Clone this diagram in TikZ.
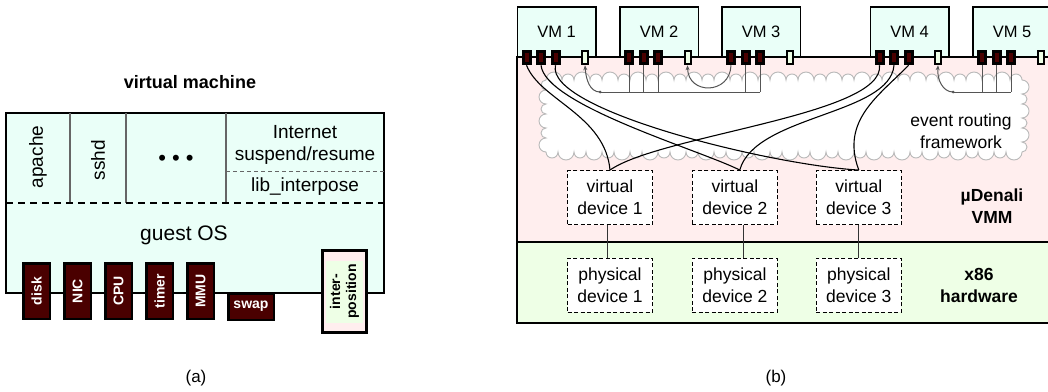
\documentclass[tikz,border=0pt]{standalone}
\usepackage{fontspec}
\setmainfont{Liberation Sans}
\usetikzlibrary{positioning,arrows.meta}

\definecolor{vmcyan}{HTML}{EAFFF8}
\definecolor{vmmpink}{HTML}{FFEEEE}
\definecolor{hwgreen}{HTML}{EEFFE6}
\definecolor{devred}{HTML}{4A0000}
\definecolor{wiregray}{HTML}{555555}
\newcommand{\fs}[2]{\fontsize{#1}{#2}\selectfont}

\begin{document}
\begin{tikzpicture}[x=1pt, y=-1pt,
  outer/.style={draw, line width=1.5pt},
  divider/.style={draw=black!60, line width=1.5pt},
  hwdev/.style={draw, line width=2.5pt, fill=devred, text=white, font=\fs{14}{15}\bfseries, inner sep=0pt},
  vmbox/.style={draw, line width=1.5pt, fill=vmcyan, minimum width=78.5pt, minimum height=50pt, font=\fs{16.5}{20}},
  darkport/.style={draw, line width=3pt, fill=devred, minimum width=7pt, minimum height=12pt, inner sep=0pt},
  evport/.style={draw, line width=2pt, fill=hwgreen, minimum width=6pt, minimum height=13pt, inner sep=0pt},
  devbox/.style={draw, line width=0.9pt, dash pattern=on 4pt off 2.5pt, fill=white, minimum width=85pt, minimum height=54pt, align=center, font=\fs{17.5}{22}},
  wire/.style={draw=wiregray, line width=1pt},
  devwire/.style={draw=black, line width=1.1pt},
  tip/.style={-{Stealth[length=5pt,width=4pt]}},
  cloudline/.style={draw=gray!55, fill=white, line width=0.9pt}
]
  \useasboundingbox (0,0) rectangle (1048,391);

  % (a) the virtual machine
  \node[font=\fs{18}{20}\bfseries] (vmtitle) at (190,82) {virtual machine};
  \draw[outer, fill=vmcyan] (6,113) rectangle (384,293);
  \draw[divider] (70,113) -- (70,203);
  \draw[divider] (126,113) -- (126,203);
  \draw[divider] (226,113) -- (226,203);
  \draw[line width=1pt, draw=black!60, dash pattern=on 4pt off 3pt] (226,171) -- (384,171);
  \draw[line width=1.5pt, dash pattern=on 7pt off 5pt] (6,203) -- (384,203);

  \node[rotate=90, font=\fs{19}{22}] (apache) at (38,157) {apache};
  \node[rotate=90, font=\fs{19}{22}] (sshd) at (98,160) {sshd};
  \node[font=\fs{22}{24}] (dots) at (176,160) {• • •};
  \node[font=\fs{19}{22}] (inet) at (305,132) {Internet};
  \node[font=\fs{19}{22}] (susp) at (305,156) {suspend/resume};
  \node[font=\fs{19}{22}] (libint) at (305,187) {lib\_interpose};
  \node[font=\fs{21}{24}] (guestos) at (184,235) {guest OS};

  \foreach \lbl [count=\i from 0] in {disk,NIC,CPU,timer,MMU}
    \node[hwdev, rotate=90, minimum width=55.5pt, minimum height=26.5pt] (dev\i) at (36.5+41*\i,291) {\lbl};
  \node[hwdev, minimum width=45.5pt, minimum height=26.5pt] (swap) at (251,306.5) {swap};
  \node[draw, line width=3pt, fill=vmmpink, minimum width=44pt, minimum height=82pt] (ipos) at (344.5,291.5) {};
  \node[rotate=90, fill=hwgreen, inner sep=1pt, minimum width=62pt, minimum height=37pt, align=center, font=\fs{14}{16}\bfseries] (ipostxt) at (ipos) {inter-\\position};

  \node[font=\fs{17}{20}] (capa) at (196,378) {(a)};

  % (b) the muDenali VMM
  \draw[line width=2pt, fill=vmmpink] (517,57) rectangle (1056,241.5);
  \draw[line width=2pt, fill=hwgreen] (517,241.5) rectangle (1056,323);

  \foreach \n/\x in {1/556.5,2/659,3/761,4/909.5,5/1012}
    \node[vmbox] (vm\n) at (\x,32) {VM \n};
  \draw[line width=2pt] (517,57) -- (1056,57);

  \foreach \n in {1,...,5}{
    \foreach \k/\dx in {1/-30,2/-15.5,3/-1}
      \node[darkport, xshift=\dx pt] (p\n\k) at (vm\n.south) {};
    \node[evport, xshift=28.5pt] (e\n) at (vm\n.south) {};
  }

  % cloud
  \draw[cloudline] (546,80)
    \foreach \i in {1,...,17} {arc[start angle=180, end angle=0, radius=8pt] arc[start angle=180, end angle=0, radius=6pt]}
    \foreach \i in {1,...,3} {arc[start angle=90, end angle=-90, radius=7pt] arc[start angle=90, end angle=-90, radius=5pt]}
    \foreach \i in {1,...,17} {arc[start angle=0, end angle=-180, radius=8pt] arc[start angle=0, end angle=-180, radius=6pt]}
    \foreach \i in {1,...,3} {arc[start angle=-90, end angle=-270, radius=7pt] arc[start angle=-90, end angle=-270, radius=5pt]}
    -- cycle;
  \node[align=center, font=\fs{17.5}{22}] (erf) at (961,131) {event routing\\framework};

  \node[devbox] (vd1) at (610,197.5) {virtual\\device 1};
  \node[devbox, right=39pt of vd1] (vd2) {virtual\\device 2};
  \node[devbox, right=38pt of vd2] (vd3) {virtual\\device 3};
  \foreach \i in {1,2,3}
    \node[devbox, below=33pt of vd\i] (pd\i) {physical\\device \i};

  \node[align=center, font=\fs{17.5}{22}\bfseries] (vmm) at (992,206) {µDenali\\VMM};
  \node[align=center, font=\fs{17.5}{22}\bfseries] (hw) at (979,285) {x86\\hardware};

  % event routing
  \coordinate (bus1) at (600,92);
  \coordinate (bus2) at (953,92);
  \draw[wire] (bus1) -- (p33.south |- bus1);
  \foreach \p in {p21,p22,p23,p32,p33}
    \draw[wire] (\p.south) -- (\p.south |- bus1);
  \draw[wire] (bus2) -- (p53.south |- bus2);
  \foreach \p in {p51,p52,p53}
    \draw[wire] (\p.south) -- (\p.south |- bus2);
  \fill[wiregray] (bus1) circle (1.5pt);
  \fill[wiregray] (bus2) circle (1.5pt);
  \draw[wire, tip] (bus1) .. controls (590,92) and (586,80) .. (e1.south);
  \draw[wire, tip] (p31.south) .. controls (730,95) and (688,95) .. (e2.south);
  \draw[wire, tip] (bus2) .. controls (943,92) and (937,80) .. (e4.south);

  % device wiring
  \draw[devwire] (p11.south) .. controls (540,100) and (605,115) .. (vd1.north);
  \draw[devwire] (p12.south) .. controls (545,105) and (700,150) .. (vd2.80);
  \draw[devwire] (p13.south) .. controls (545,110) and (770,165) .. (vd3.north);
  \draw[devwire] (p41.south) .. controls (885,115) and (660,135) .. (vd1.north);
  \draw[devwire] (p42.south) .. controls (890,115) and (755,115) .. (vd2.80);
  \draw[devwire] (p43.south) .. controls (880,95) and (840,120) .. (vd3.north);

  \draw[wire, draw=black!80] (vd1.265) -- (pd1.95);
  \draw[wire, draw=black!80] (vd2.288) -- (pd2.72);
  \draw[wire, draw=black!80] (vd3.south) -- (pd3.north);

  \node[font=\fs{17}{20}] (capb) at (776,378) {(b)};
\end{tikzpicture}
\end{document}
